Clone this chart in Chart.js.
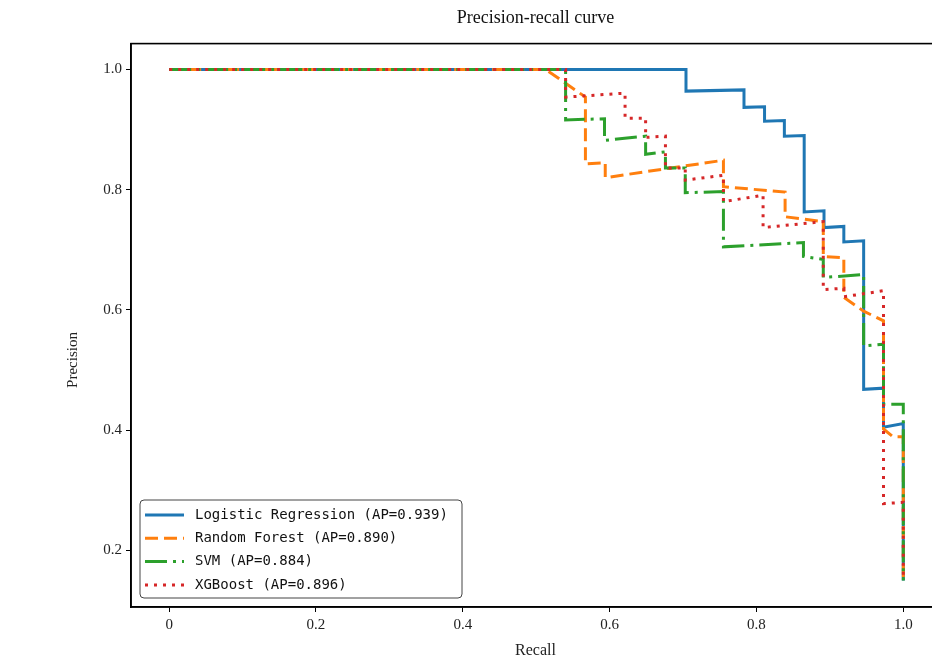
<!DOCTYPE html>
<html>
<head>
<meta charset="utf-8">
<title>Precision-recall curve</title>
<script src="https://cdn.jsdelivr.net/npm/chart.js@4.4.1/dist/chart.umd.min.js"></script>
<style>
  html, body { margin: 0; padding: 0; background: #fff; overflow: hidden; }
  #wrap { position: absolute; left: 0; top: 0; width: 950px; height: 662px; }
</style>
</head>
<body>
<div id="wrap"><canvas id="prChart" width="950" height="662"></canvas></div>
<script>
// values
const lrRecall = [0, 0.704, 0.704, 0.783, 0.783, 0.811, 0.811, 0.838, 0.838, 0.865, 0.865, 0.892, 0.892, 0.919, 0.919, 0.946, 0.946, 0.973, 0.973, 1.0, 1.0];
const lrPrecision = [1.0, 1.0, 0.964, 0.966, 0.937, 0.938, 0.914, 0.915, 0.889, 0.89, 0.763, 0.765, 0.737, 0.739, 0.713, 0.715, 0.468, 0.47, 0.405, 0.411, 0.15];

const rfRecall = [0, 0.513, 0.567, 0.567, 0.594, 0.594, 0.755, 0.755, 0.839, 0.839, 0.891, 0.891, 0.919, 0.919, 0.946, 0.973, 0.973, 0.986, 1.0, 1.0];
const rfPrecision = [1.0, 1.0, 0.954, 0.843, 0.845, 0.82, 0.849, 0.805, 0.796, 0.755, 0.747, 0.689, 0.687, 0.621, 0.598, 0.582, 0.402, 0.389, 0.389, 0.15];

const svmRecall = [0, 0.540, 0.540, 0.593, 0.593, 0.649, 0.649, 0.676, 0.676, 0.703, 0.703, 0.755, 0.755, 0.864, 0.864, 0.891, 0.891, 0.946, 0.946, 0.973, 0.973, 1.0, 1.0];
const svmPrecision = [1.0, 1.0, 0.916, 0.918, 0.882, 0.889, 0.859, 0.863, 0.836, 0.836, 0.795, 0.797, 0.705, 0.712, 0.689, 0.684, 0.654, 0.659, 0.540, 0.543, 0.443, 0.443, 0.15];

const xgbRecall = [0, 0.540, 0.540, 0.614, 0.621, 0.621, 0.649, 0.649, 0.676, 0.676, 0.703, 0.703, 0.755, 0.755, 0.809, 0.809, 0.891, 0.891, 0.919, 0.919, 0.973, 0.973, 1.0, 1.0];
const xgbPrecision = [1.0, 1.0, 0.954, 0.960, 0.960, 0.919, 0.919, 0.887, 0.889, 0.836, 0.836, 0.816, 0.824, 0.780, 0.791, 0.737, 0.747, 0.634, 0.636, 0.622, 0.632, 0.278, 0.280, 0.15];

const seriesLabels = [
  "Logistic Regression (AP=0.939)",
  "Random Forest (AP=0.890)",
  "SVM (AP=0.884)",
  "XGBoost (AP=0.896)"
];
const xTicks = [0, 0.2, 0.4, 0.6, 0.8, 1.0];
const yTicks = [0.2, 0.4, 0.6, 0.8, 1.0];

const serif = "'Liberation Serif', 'Times New Roman', serif";

function toPoints(xs, ys) {
  return xs.map((x, i) => ({ x: x, y: ys[i] }));
}

// black box round the plot area
const framePlugin = {
  id: "frame",
  afterDatasetsDraw(chart) {
    const a = chart.chartArea;
    const ctx = chart.ctx;
    ctx.save();
    ctx.strokeStyle = "#000";
    ctx.lineWidth = 1.6;
    ctx.strokeRect(a.left, a.top, a.right - a.left, a.bottom - a.top);
    ctx.restore();
  }
};

// y axis name, sits a little below the middle in the reference
const yNamePlugin = {
  id: "yName",
  afterDraw(chart) {
    const ctx = chart.ctx;
    ctx.save();
    ctx.translate(73, 360);
    ctx.rotate(-Math.PI / 2);
    ctx.fillStyle = "#222";
    ctx.font = "15px " + serif;
    ctx.textAlign = "center";
    ctx.textBaseline = "middle";
    ctx.fillText("Precision", 0, 0);
    ctx.restore();
  }
};

// legend box in the lower left corner of the plot
const innerLegend = {
  id: "innerLegend",
  afterDraw(chart) {
    const a = chart.chartArea;
    const ctx = chart.ctx;
    const sets = chart.data.datasets;
    const rowH = 23.3;
    const w = 322;
    const h = 98;
    const left = a.left + 9;
    const top = a.bottom - 9 - h;

    ctx.save();
    ctx.beginPath();
    ctx.roundRect(left, top, w, h, 4);
    ctx.fillStyle = "rgba(255,255,255,0.85)";
    ctx.fill();
    ctx.strokeStyle = "#444";
    ctx.lineWidth = 1;
    ctx.stroke();

    sets.forEach((ds, i) => {
      const y = top + 15 + i * rowH;
      ctx.beginPath();
      ctx.setLineDash(ds.borderDash || []);
      ctx.strokeStyle = ds.borderColor;
      ctx.lineWidth = ds.borderWidth;
      ctx.moveTo(left + 5, y);
      ctx.lineTo(left + 44, y);
      ctx.stroke();
      ctx.setLineDash([]);

      ctx.fillStyle = "#111";
      ctx.font = "14px 'DejaVu Sans Mono', monospace";
      ctx.textBaseline = "middle";
      ctx.textAlign = "left";
      ctx.fillText(ds.label, left + 55, y);
    });
    ctx.restore();
  }
};

function makeDataset(label, xs, ys, color, dash, order) {
  return {
    label: label,
    data: toPoints(xs, ys),
    borderColor: color,
    backgroundColor: color,
    borderWidth: 3,
    borderDash: dash,
    pointRadius: 0,
    tension: 0,
    fill: false,
    order: order
  };
}

function buildChart() {
  const ctx = document.getElementById("prChart").getContext("2d");
  new Chart(ctx, {
    type: "line",
    data: {
      datasets: [
        makeDataset(seriesLabels[0], lrRecall, lrPrecision, "#1f77b4", [], 3),
        makeDataset(seriesLabels[1], rfRecall, rfPrecision, "#ff7f0e", [13, 6], 2),
        makeDataset(seriesLabels[2], svmRecall, svmPrecision, "#2ca02c", [22, 6, 3, 6], 1),
        makeDataset(seriesLabels[3], xgbRecall, xgbPrecision, "#d62728", [3, 6], 0)
      ]
    },
    options: {
      responsive: false,
      animation: false,
      devicePixelRatio: 1,
      layout: { padding: { left: 0, right: 10, top: 0, bottom: 0 } },
      plugins: {
        legend: { display: false },
        tooltip: { enabled: false },
        title: {
          display: true,
          fullSize: false,
          text: "Precision-recall curve",
          color: "#111",
          font: { family: serif, size: 18, weight: "normal" },
          padding: { top: 7, bottom: 15 }
        }
      },
      scales: {
        x: {
          type: "linear",
          min: -0.052,
          max: 1.05,
          afterBuildTicks: (scale) => {
            scale.ticks = xTicks.map((v) => ({ value: v }));
          },
          afterFit: (scale) => {
            scale.height = 55;
          },
          ticks: {
            color: "#222",
            padding: 4,
            font: { family: serif, size: 15 },
            callback: (v) => (v === 0 ? "0" : Number(v).toFixed(1))
          },
          grid: {
            drawOnChartArea: false,
            drawTicks: true,
            tickLength: 5,
            tickColor: "#000",
            tickWidth: 1
          },
          border: { display: true, color: "#000", width: 1.6 },
          title: {
            display: true,
            text: "Recall",
            color: "#222",
            font: { family: serif, size: 16 },
            padding: { top: 0, bottom: 2 }
          }
        },
        y: {
          type: "linear",
          min: 0.106,
          max: 1.043,
          afterBuildTicks: (scale) => {
            scale.ticks = yTicks.map((v) => ({ value: v }));
          },
          afterFit: (scale) => {
            scale.width = 131;
          },
          ticks: {
            color: "#222",
            padding: 4,
            font: { family: serif, size: 15 },
            callback: (v) => Number(v).toFixed(1)
          },
          grid: {
            drawOnChartArea: false,
            drawTicks: true,
            tickLength: 5,
            tickColor: "#000",
            tickWidth: 1
          },
          border: { display: true, color: "#000", width: 1.6 }
        }
      }
    },
    plugins: [framePlugin, yNamePlugin, innerLegend]
  });
}

document.addEventListener("DOMContentLoaded", buildChart);
</script>
</body>
</html>
